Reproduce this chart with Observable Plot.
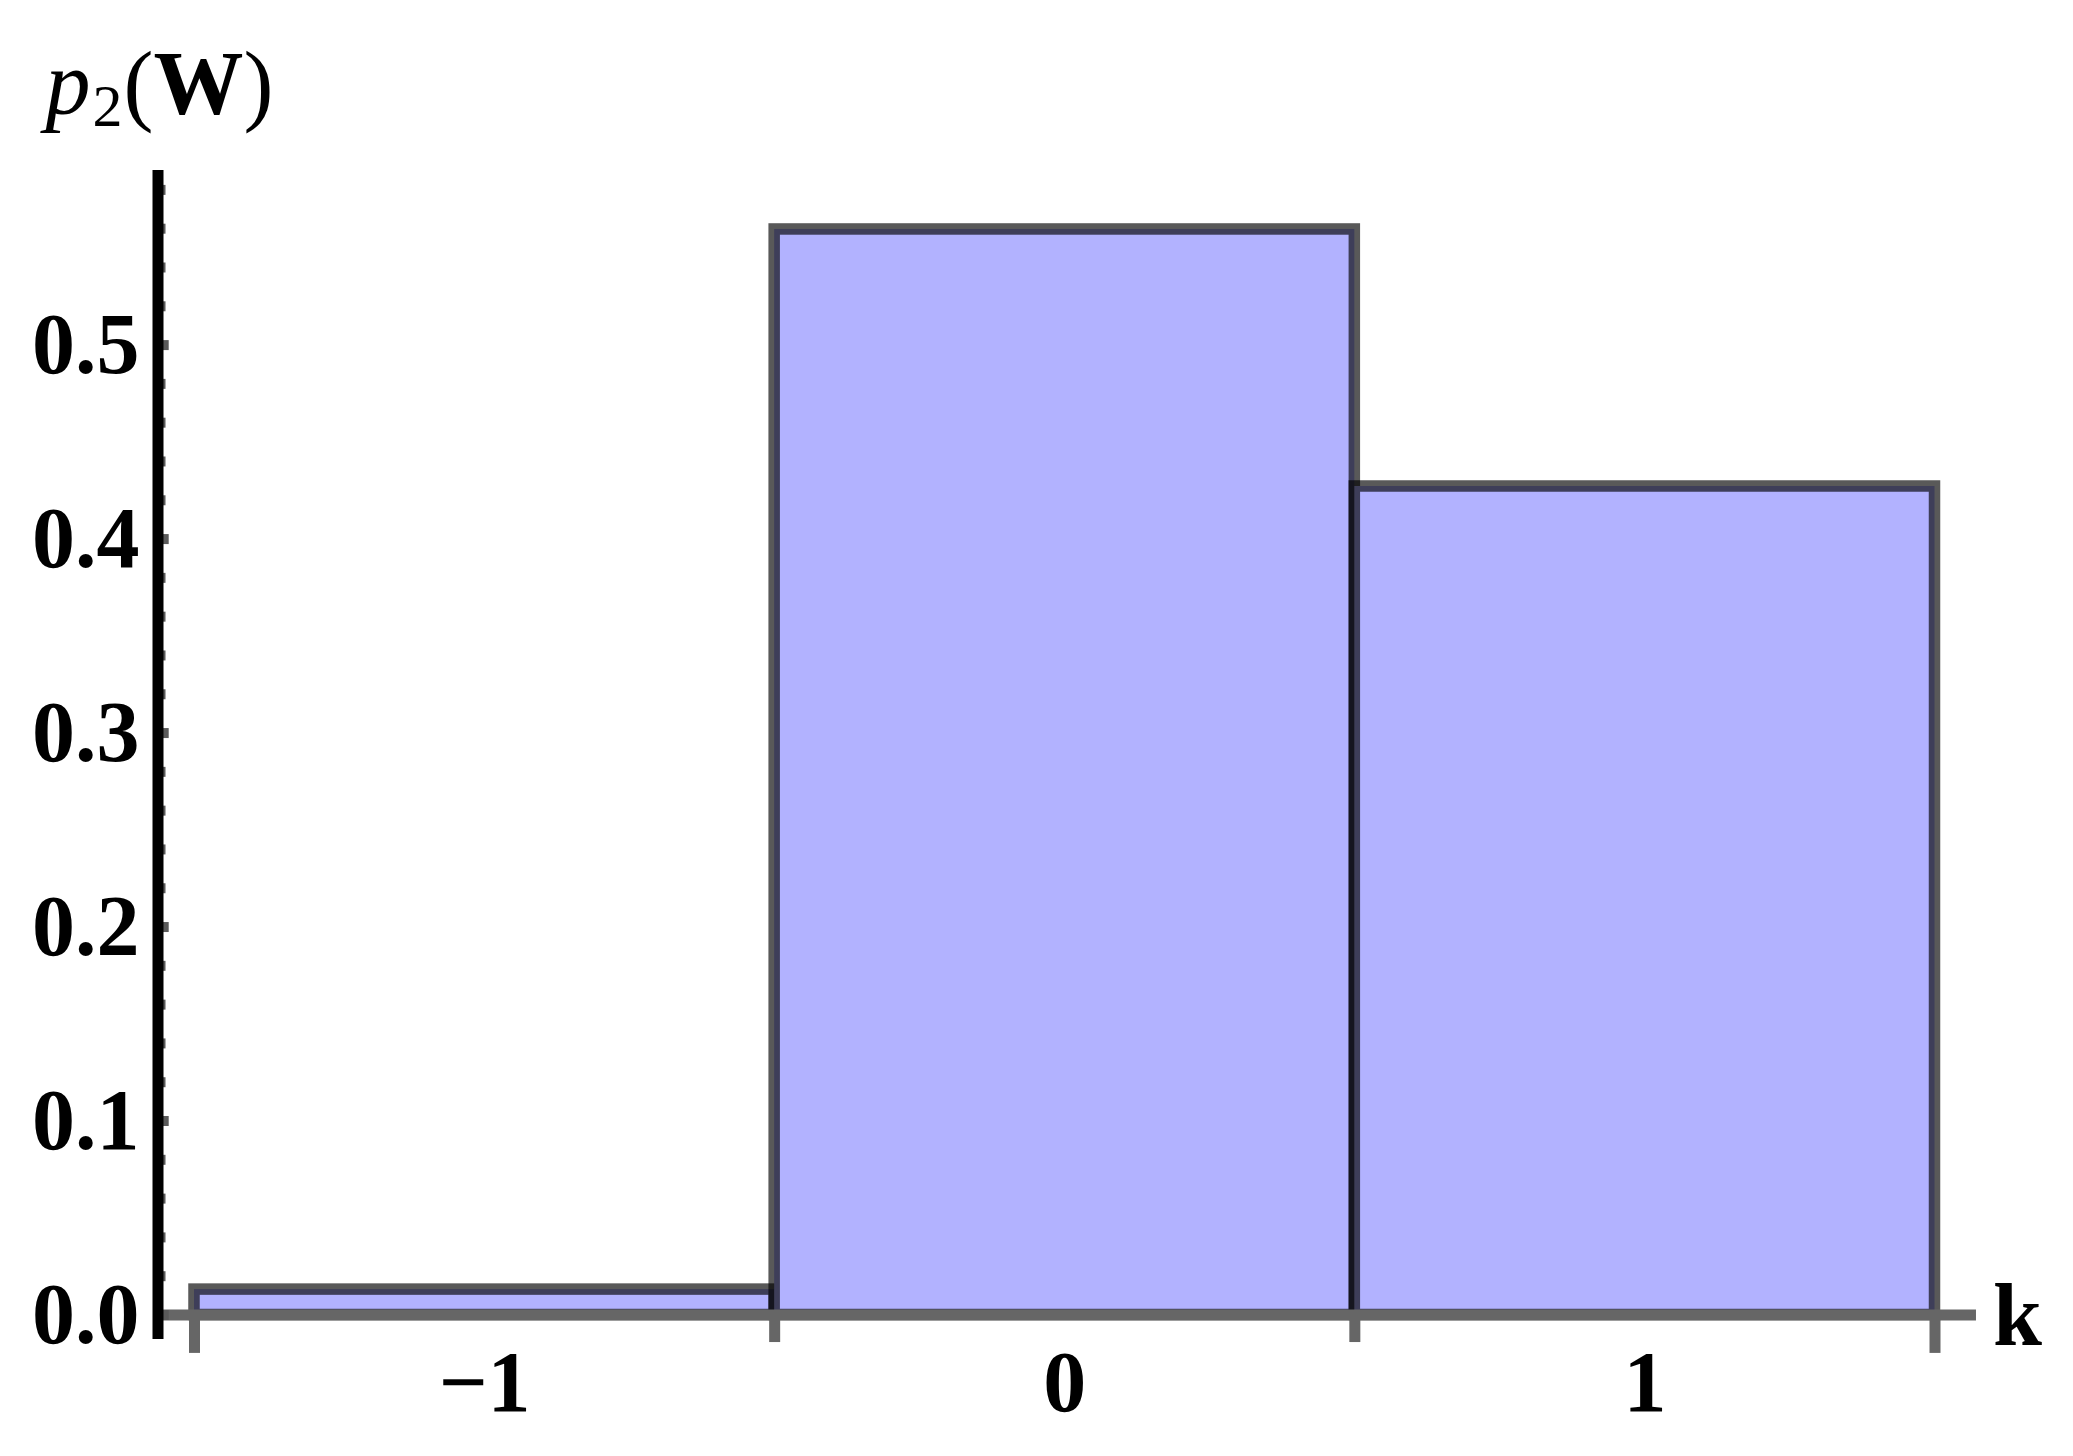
<!DOCTYPE html>
<html>
<head>
<meta charset="utf-8">
<script src="https://cdn.jsdelivr.net/npm/d3@7"></script>
<script src="https://cdn.jsdelivr.net/npm/@observablehq/plot@0.6"></script>
<style>
  html, body { margin: 0; padding: 0; background: #ffffff; overflow: hidden; }
</style>
</head>
<body>
<div id="chart"></div>
<script>
// ---- data ----
const categories = [-1, 0, 1];
const probabilities = [0.0131, 0.5596, 0.4271];
const xTickLabels = ["\u22121", "0", "1"];
const xEdgeTicks = [-1.5, -0.5, 0.5, 1.5];
const yTickValues = [0, 0.1, 0.2, 0.3, 0.4, 0.5];
const yTickLabels = ["0.0", "0.1", "0.2", "0.3", "0.4", "0.5"];
const yMinorTicks = [0.02, 0.04, 0.06, 0.08, 0.12, 0.14, 0.16, 0.18,
                     0.22, 0.24, 0.26, 0.28, 0.32, 0.34, 0.36, 0.38,
                     0.42, 0.44, 0.46, 0.48, 0.52, 0.54, 0.56, 0.58];
const xAxisLabel = "k";
const yAxisLabel = "p2(W)";

const bars = categories.map((k, i) => ({k, p: probabilities[i]}));
const xLabelRows = categories.map((k, i) => ({k, label: xTickLabels[i]}));
const yLabelRows = yTickValues.map((v, i) => ({v, label: yTickLabels[i]}));

const AXIS_X = -1.5629;          // where the vertical axis sits (data units)
const font = "'Liberation Serif', 'Times New Roman', serif";

const plot = Plot.plot({
  width: 2073,
  height: 1456,
  x: {domain: [-1.5, 1.5], range: [194, 1934.5], axis: null},
  y: {domain: [0, 0.59], range: [1314.5, 170], axis: null},
  style: {fontFamily: font, fontSize: "86px", fontWeight: "bold", background: "#ffffff", overflow: "visible"},
  marks: [
    Plot.rect(bars, {
      x1: d => d.k - 0.5, x2: d => d.k + 0.5, y1: d => 0, y2: "p",
      fill: "#b2b2ff", stroke: "#000000", strokeOpacity: 0.65, strokeWidth: 11.5
    }),
    Plot.ruleX(xEdgeTicks, {
      x: d => d, y1: d => 0, y2: d => (Math.abs(d) === 1.5 ? -0.0198 : -0.0142),
      stroke: "#666666", strokeWidth: 11
    }),
    Plot.ruleY([0], {x1: AXIS_X, x2: 1.5715, stroke: "#666666", strokeWidth: 11}),
    Plot.ruleY(yMinorTicks, {y: d => d, x1: AXIS_X, x2: AXIS_X + 0.0138, stroke: "#5a5a5a", strokeWidth: 10}),
    Plot.ruleY(yTickValues, {y: d => d, x1: AXIS_X, x2: AXIS_X + 0.0193, stroke: "#5a5a5a", strokeWidth: 10}),
    Plot.ruleX([AXIS_X], {y1: -0.0126, y2: 0.590, stroke: "#000000", strokeWidth: 11}),
    Plot.text(yLabelRows, {
      x: d => AXIS_X, y: "v", text: "label", textAnchor: "end", dx: -18.5,
      fontSize: 86, fontWeight: "bold", fill: "#000000"
    }),
    Plot.text(xLabelRows, {
      x: "k", y: d => 0, text: "label", textAnchor: "middle", dy: 68,
      fontSize: 86, fontWeight: "bold", fill: "#000000"
    }),
    Plot.text([xAxisLabel], {
      x: d => 1.5, y: d => 0, text: d => d, textAnchor: "start", dx: 58, dy: 2,
      fontSize: 88, fontWeight: "bold", fill: "#000000"
    }),
    Plot.text([yAxisLabel], {
      x: d => AXIS_X, y: d => 0.59, text: d => d, textAnchor: "start", lineAnchor: "bottom",
      dx: -112.5, dy: -57, fontSize: 90, fontWeight: "normal", fill: "#000000"
    })
  ]
});

// rich formatting for the y-axis label: italic p, subscript 2, bold W
plot.querySelectorAll("text").forEach(t => {
  if (t.textContent === yAxisLabel) {
    const ns = "http://www.w3.org/2000/svg";
    while (t.firstChild) t.removeChild(t.firstChild);
    const parts = [
      {s: "p", style: "italic", weight: "normal"},
      {s: "2", size: "60px", weight: "normal", dy: "12", dx: "2"},
      {s: "(", weight: "normal", dy: "-12", dx: "1"},
      {s: "W", weight: "bold"},
      {s: ")", weight: "normal"}
    ];
    parts.forEach(p => {
      const ts = document.createElementNS(ns, "tspan");
      ts.textContent = p.s;
      if (p.style) ts.setAttribute("font-style", p.style);
      if (p.weight) ts.setAttribute("font-weight", p.weight);
      if (p.size) ts.setAttribute("font-size", p.size);
      if (p.dy) ts.setAttribute("dy", p.dy);
      if (p.dx) ts.setAttribute("dx", p.dx);
      t.appendChild(ts);
    });
  }
});

document.getElementById("chart").appendChild(plot);
</script>
</body>
</html>
